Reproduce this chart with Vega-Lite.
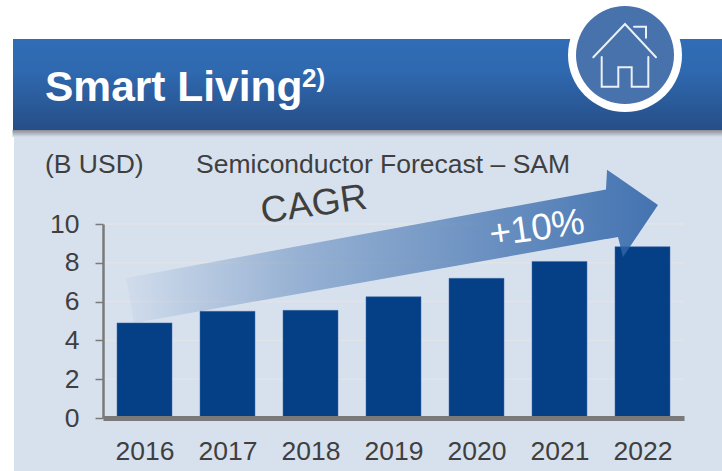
{"$schema":"https://vega.github.io/schema/vega-lite/v6.json","width":581,"height":194,"autosize":"none","padding":{"left":103,"top":224,"right":38,"bottom":53},"background":"#ffffff","config":{"view":{"stroke":null},"text":{"font":"Liberation Sans"},"axis":{"labelFont":"Liberation Sans","grid":false}},"datasets":{"bars":[{"year":2016,"value":4.9},{"year":2017,"value":5.5},{"year":2018,"value":5.55},{"year":2019,"value":6.25},{"year":2020,"value":7.2},{"year":2021,"value":8.07},{"year":2022,"value":8.83}],"grid":[{"v":2},{"v":4},{"v":6},{"v":8},{"v":10}],"panel":[{"x":2014.4277,"x2":2022.9578,"y":14.8454,"y2":-2.732}],"shadow":[{"x":2014.4096,"x2":2022.9578,"y":14.8454,"y2":14.4845}],"header":[{"x":2014.4157,"x2":2022.9578,"y":19.5361,"y2":14.8454}],"badge":[{"x":2021.7892,"y":18.7113}],"house":[{"part":"roof","i":1,"x":2021.4072,"y":18.5928},{"part":"roof","i":2,"x":2021.7892,"y":20.3093},{"part":"roof","i":3,"x":2022.1627,"y":18.5928},{"part":"walls","i":1,"x":2021.5084,"y":18.6082},{"part":"walls","i":2,"x":2021.5084,"y":17.0773},{"part":"walls","i":3,"x":2021.7084,"y":17.0773},{"part":"walls","i":4,"x":2021.7084,"y":18.0773},{"part":"walls","i":5,"x":2021.8699,"y":18.0773},{"part":"walls","i":6,"x":2021.8699,"y":17.0773},{"part":"walls","i":7,"x":2022.0699,"y":17.0773},{"part":"walls","i":8,"x":2022.0699,"y":18.6082},{"part":"chimney","i":1,"x":2021.8976,"y":20.1701},{"part":"chimney","i":2,"x":2022.0422,"y":20.1701},{"part":"chimney","i":3,"x":2022.0422,"y":19.6031}],"arrow":[{"x":2015.7771,"top":7.2165,"bottom":7.2165},{"x":2015.8735,"top":7.2938,"bottom":4.8969},{"x":2021.5602,"top":11.7835,"bottom":9.2216},{"x":2021.5723,"top":12.799,"bottom":9.232},{"x":2021.7048,"top":12.4072,"bottom":9.3299},{"x":2021.7651,"top":12.2268,"bottom":8.299},{"x":2022.1867,"top":10.9794,"bottom":10.9794}],"labels":[{"x":2014.8012,"y":12.6289,"text":"(B USD)"},{"x":2016.6205,"y":12.6289,"text":"Semiconductor Forecast – SAM"}]},"layer":[{"data":{"name":"panel"},"mark":{"type":"rect","color":"#d7e1ee"},"encoding":{"x":{"field":"x","type":"quantitative","scale":{"domain":[2015.5,2022.5],"nice":false,"zero":false,"padding":0},"axis":{"title":null}},"x2":{"field":"x2"},"y":{"field":"y","type":"quantitative","scale":{"domain":[0,10],"nice":false,"zero":false,"padding":0},"axis":{"title":null}},"y2":{"field":"y2"}}},{"data":{"name":"shadow"},"mark":{"type":"rect","color":{"gradient":"linear","x1":0,"y1":0,"x2":0,"y2":1,"stops":[{"offset":0,"color":"#888c94"},{"offset":1,"color":"#d7e1ee"}]}},"encoding":{"x":{"field":"x","type":"quantitative","axis":{"title":null}},"x2":{"field":"x2"},"y":{"field":"y","type":"quantitative","axis":{"title":null}},"y2":{"field":"y2"}}},{"data":{"name":"header"},"mark":{"type":"rect","color":{"gradient":"linear","x1":0,"y1":0,"x2":0,"y2":1,"stops":[{"offset":0,"color":"#306db6"},{"offset":0.35,"color":"#2f69b0"},{"offset":1,"color":"#264e87"}]}},"encoding":{"x":{"field":"x","type":"quantitative","axis":{"title":null}},"x2":{"field":"x2"},"y":{"field":"y","type":"quantitative","axis":{"title":null}},"y2":{"field":"y2"}}},{"data":{"name":"badge"},"mark":{"type":"point","shape":"circle","filled":true,"size":12996,"color":"#ffffff","opacity":1},"encoding":{"x":{"field":"x","type":"quantitative","axis":{"title":null}},"y":{"field":"y","type":"quantitative","axis":{"title":null}}}},{"data":{"name":"badge"},"mark":{"type":"point","shape":"circle","filled":true,"size":9604,"color":"#4872ab","opacity":1},"encoding":{"x":{"field":"x","type":"quantitative","axis":{"title":null}},"y":{"field":"y","type":"quantitative","axis":{"title":null}}}},{"data":{"name":"house"},"mark":{"type":"line","color":"#eaf0f7","strokeWidth":2,"strokeCap":"round","strokeJoin":"miter"},"encoding":{"x":{"field":"x","type":"quantitative","axis":{"title":null}},"y":{"field":"y","type":"quantitative","axis":{"title":null}},"detail":{"field":"part"},"order":{"field":"i","type":"quantitative"}}},{"data":{"name":"grid"},"mark":{"type":"rule","color":"#e1e4e7","strokeWidth":1.5},"encoding":{"y":{"field":"v","type":"quantitative","axis":{"title":null}}}},{"data":{"name":"bars"},"mark":{"type":"bar","color":"#054087","width":55,"stroke":"#3c6aa8","strokeWidth":0.5},"encoding":{"x":{"field":"year","type":"quantitative","axis":{"title":null,"values":[2016,2017,2018,2019,2020,2021,2022],"format":"d","grid":false,"ticks":false,"domainColor":"#7a7a7a","domainWidth":5,"labelFontSize":26.5,"labelColor":"#3f3f3f","labelPadding":20,"labelOverlap":false,"labelFlush":false,"zindex":1}},"y":{"field":"value","type":"quantitative","axis":{"title":null,"values":[0,2,4,6,8,10],"tickCount":6,"grid":false,"tickSize":8,"tickColor":"#7a7a7a","tickWidth":1.5,"domainColor":"#7a7a7a","domainWidth":2.5,"labelFontSize":26.5,"labelColor":"#3f3f3f","labelPadding":16,"labelOverlap":false,"labelFlush":false,"zindex":1}}}},{"data":{"name":"arrow"},"mark":{"type":"area","color":{"gradient":"linear","x1":0,"y1":0,"x2":1,"y2":0,"stops":[{"offset":0,"color":"rgba(47,100,168,0.04)"},{"offset":0.33,"color":"rgba(47,100,168,0.39)"},{"offset":1,"color":"rgba(47,100,168,0.88)"}]}},"encoding":{"x":{"field":"x","type":"quantitative","axis":{"title":null}},"y":{"field":"top","type":"quantitative","axis":{"title":null}},"y2":{"field":"bottom"}}},{"data":{"values":[{"x":2018.0422,"y":10.98,"text":"CAGR"}]},"mark":{"type":"text","fontSize":37,"angle":352,"color":"#3f3f3f","align":"center","baseline":"middle"},"encoding":{"x":{"field":"x","type":"quantitative","axis":{"title":null}},"y":{"field":"y","type":"quantitative","axis":{"title":null}},"text":{"field":"text"}}},{"data":{"values":[{"x":2020.729,"y":9.742,"text":"+10%"}]},"mark":{"type":"text","fontSize":37,"angle":352,"color":"#ffffff","align":"center","baseline":"middle"},"encoding":{"x":{"field":"x","type":"quantitative","axis":{"title":null}},"y":{"field":"y","type":"quantitative","axis":{"title":null}},"text":{"field":"text"}}},{"data":{"name":"labels"},"mark":{"type":"text","fontSize":26.5,"color":"#3f3f3f","align":"left","baseline":"alphabetic"},"encoding":{"x":{"field":"x","type":"quantitative","axis":{"title":null}},"y":{"field":"y","type":"quantitative","axis":{"title":null}},"text":{"field":"text"}}},{"data":{"values":[{"x":2014.8012,"y":16.3402,"text":"Smart Living"}]},"mark":{"type":"text","fontSize":42.5,"fontWeight":"bold","color":"#ffffff","align":"left","baseline":"alphabetic"},"encoding":{"x":{"field":"x","type":"quantitative","axis":{"title":null}},"y":{"field":"y","type":"quantitative","axis":{"title":null}},"text":{"field":"text"}}},{"data":{"values":[{"x":2017.8976,"y":17.0619,"text":"2)"}]},"mark":{"type":"text","fontSize":26,"fontWeight":"bold","color":"#ffffff","align":"left","baseline":"alphabetic"},"encoding":{"x":{"field":"x","type":"quantitative","axis":{"title":null}},"y":{"field":"y","type":"quantitative","axis":{"title":null}},"text":{"field":"text"}}}]}
